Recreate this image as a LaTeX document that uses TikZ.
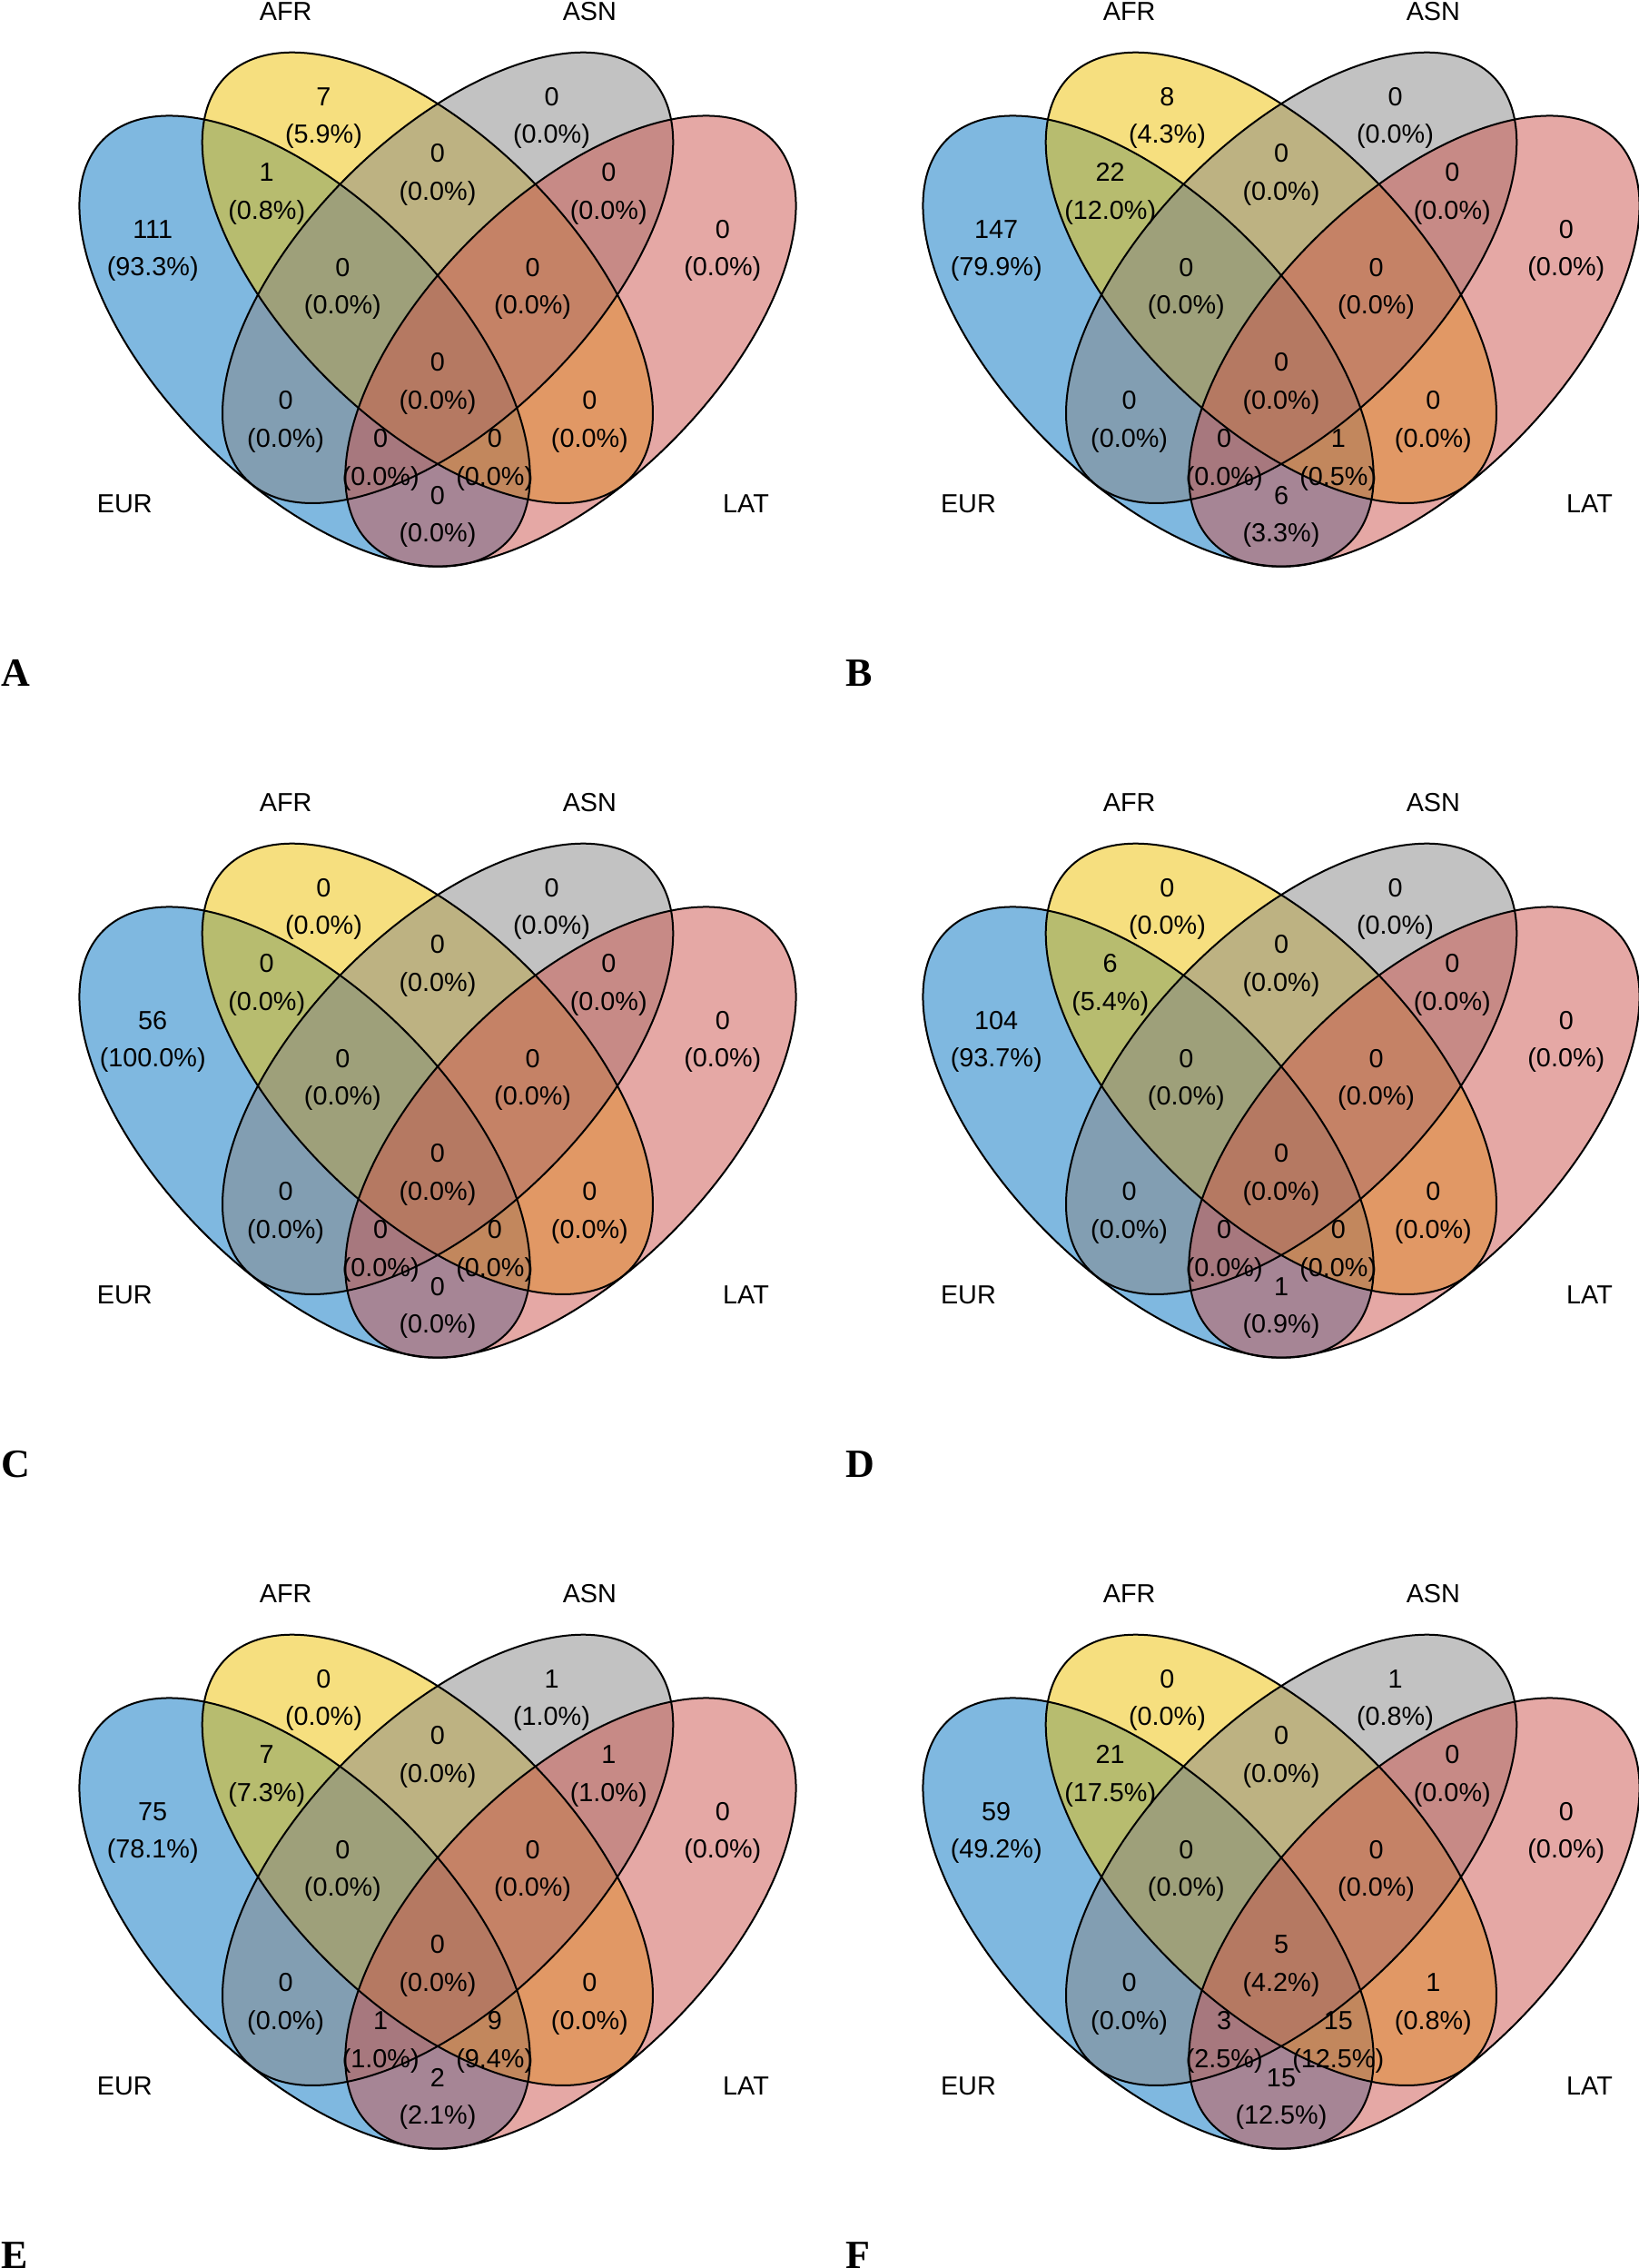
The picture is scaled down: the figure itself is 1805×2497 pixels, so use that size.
\documentclass[tikz,border=0pt]{standalone}
\usepackage{fontspec}
\newfontfamily\arialf{Liberation Sans}
\newfontfamily\timesf{Liberation Serif}
\definecolor{cEUR}{HTML}{0073C2}
\definecolor{cAFR}{HTML}{EFC000}
\definecolor{cASN}{HTML}{868686}
\definecolor{cLAT}{HTML}{CD534C}
\tikzset{
  vfill/.style={fill opacity=0.5},
  vline/.style={draw=black, line width=1pt},
  cnt/.style={anchor=base, inner sep=0pt, font=\arialf\fontsize{14.4}{17}\selectfont},
  setlab/.style={inner sep=0pt, font=\arialf\fontsize{14.4}{17}\selectfont},
  panlab/.style={anchor=base west, inner sep=0pt, font=\timesf\fontsize{22}{24}\selectfont\bfseries}
}
% #1 prefix, #2 X0 (px), #3 Y0 (px from top), #4 panel letter, #5 data list
\newcommand{\vennpanel}[5]{%
  \begin{scope}[shift={(#2,2497-#3)}, scale=209.2]
    \fill[cEUR, vfill, rotate around={45:(-0.7,-0.5)}] (-0.7,-0.5) ellipse [x radius=0.75, y radius=1.5];
    \fill[cAFR, vfill, rotate around={45:(-0.05333,-0.16667)}] (-0.05333,-0.16667) ellipse [x radius=0.75, y radius=1.5];
    \fill[cASN, vfill, rotate around={-45:(0.05333,-0.16667)}] (0.05333,-0.16667) ellipse [x radius=0.75, y radius=1.5];
    \fill[cLAT, vfill, rotate around={-45:(0.7,-0.5)}] (0.7,-0.5) ellipse [x radius=0.75, y radius=1.5];
    \draw[vline, rotate around={45:(-0.7,-0.5)}] (-0.7,-0.5) ellipse [x radius=0.75, y radius=1.5];
    \draw[vline, rotate around={45:(-0.05333,-0.16667)}] (-0.05333,-0.16667) ellipse [x radius=0.75, y radius=1.5];
    \draw[vline, rotate around={-45:(0.05333,-0.16667)}] (0.05333,-0.16667) ellipse [x radius=0.75, y radius=1.5];
    \draw[vline, rotate around={-45:(0.7,-0.5)}] (0.7,-0.5) ellipse [x radius=0.75, y radius=1.5];
    \foreach \nm/\px/\py/\n/\p in {#5}{%
      \node[cnt, yshift=4.25pt] (#1-\nm-n) at (\px,\py) {\n};
      \node[cnt, yshift=-16.5pt] (#1-\nm-p) at (\px,\py) {(\p\%)};
    }
    \node[setlab, anchor=base, yshift=-1.35pt] (#1-AFR) at (-0.8,1.2) {AFR};
    \node[setlab, anchor=base, yshift=-1.35pt] (#1-ASN) at (0.8,1.2) {ASN};
    \node[setlab, anchor=base east, yshift=-10.85pt] (#1-EUR) at (-1.5,-1.3) {EUR};
    \node[setlab, anchor=base west, yshift=-10.85pt] (#1-LAT) at (1.5,-1.3) {LAT};
  \end{scope}
}
\begin{document}
\begin{tikzpicture}[x=0.5pt, y=0.5pt]
\useasboundingbox (0,0) rectangle (1805,2497);
\fill[white] (0,0) rectangle (1805,2497);

\vennpanel{pA}{482}{271}{A}{A/-1.5/0/111/93.3, B/-0.6/0.7/7/5.9, C/0.6/0.7/0/0.0, D/1.5/0/0/0.0,
  AB/-0.9/0.3/1/0.8, BC/0/0.4/0/0.0, CD/0.9/0.3/0/0.0, AC/-0.8/-0.9/0/0.0, BD/0.8/-0.9/0/0.0,
  AD/0/-1.4/0/0.0, ABC/-0.5/-0.2/0/0.0, BCD/0.5/-0.2/0/0.0, ACD/-0.3/-1.1/0/0.0, ABD/0.3/-1.1/0/0.0,
  ABCD/0/-0.7/0/0.0}
\vennpanel{pB}{1411}{271}{B}{A/-1.5/0/147/79.9, B/-0.6/0.7/8/4.3, C/0.6/0.7/0/0.0, D/1.5/0/0/0.0,
  AB/-0.9/0.3/22/12.0, BC/0/0.4/0/0.0, CD/0.9/0.3/0/0.0, AC/-0.8/-0.9/0/0.0, BD/0.8/-0.9/0/0.0,
  AD/0/-1.4/6/3.3, ABC/-0.5/-0.2/0/0.0, BCD/0.5/-0.2/0/0.0, ACD/-0.3/-1.1/0/0.0, ABD/0.3/-1.1/1/0.5,
  ABCD/0/-0.7/0/0.0}
\vennpanel{pC}{482}{1142}{C}{A/-1.5/0/56/100.0, B/-0.6/0.7/0/0.0, C/0.6/0.7/0/0.0, D/1.5/0/0/0.0,
  AB/-0.9/0.3/0/0.0, BC/0/0.4/0/0.0, CD/0.9/0.3/0/0.0, AC/-0.8/-0.9/0/0.0, BD/0.8/-0.9/0/0.0,
  AD/0/-1.4/0/0.0, ABC/-0.5/-0.2/0/0.0, BCD/0.5/-0.2/0/0.0, ACD/-0.3/-1.1/0/0.0, ABD/0.3/-1.1/0/0.0,
  ABCD/0/-0.7/0/0.0}
\vennpanel{pD}{1411}{1142}{D}{A/-1.5/0/104/93.7, B/-0.6/0.7/0/0.0, C/0.6/0.7/0/0.0, D/1.5/0/0/0.0,
  AB/-0.9/0.3/6/5.4, BC/0/0.4/0/0.0, CD/0.9/0.3/0/0.0, AC/-0.8/-0.9/0/0.0, BD/0.8/-0.9/0/0.0,
  AD/0/-1.4/1/0.9, ABC/-0.5/-0.2/0/0.0, BCD/0.5/-0.2/0/0.0, ACD/-0.3/-1.1/0/0.0, ABD/0.3/-1.1/0/0.0,
  ABCD/0/-0.7/0/0.0}
\vennpanel{pE}{482}{2013}{E}{A/-1.5/0/75/78.1, B/-0.6/0.7/0/0.0, C/0.6/0.7/1/1.0, D/1.5/0/0/0.0,
  AB/-0.9/0.3/7/7.3, BC/0/0.4/0/0.0, CD/0.9/0.3/1/1.0, AC/-0.8/-0.9/0/0.0, BD/0.8/-0.9/0/0.0,
  AD/0/-1.4/2/2.1, ABC/-0.5/-0.2/0/0.0, BCD/0.5/-0.2/0/0.0, ACD/-0.3/-1.1/1/1.0, ABD/0.3/-1.1/9/9.4,
  ABCD/0/-0.7/0/0.0}
\vennpanel{pF}{1411}{2013}{F}{A/-1.5/0/59/49.2, B/-0.6/0.7/0/0.0, C/0.6/0.7/1/0.8, D/1.5/0/0/0.0,
  AB/-0.9/0.3/21/17.5, BC/0/0.4/0/0.0, CD/0.9/0.3/0/0.0, AC/-0.8/-0.9/0/0.0, BD/0.8/-0.9/1/0.8,
  AD/0/-1.4/15/12.5, ABC/-0.5/-0.2/0/0.0, BCD/0.5/-0.2/0/0.0, ACD/-0.3/-1.1/3/2.5, ABD/0.3/-1.1/15/12.5,
  ABCD/0/-0.7/5/4.2}

\node[panlab] (labA) at (1,1741) {A};
\node[panlab] (labB) at (931,1741) {B};
\node[panlab] (labC) at (1,870) {C};
\node[panlab] (labD) at (931,870) {D};
\node[panlab] (labE) at (1,-1) {E};
\node[panlab] (labF) at (931,-1) {F};
\end{tikzpicture}
\end{document}
